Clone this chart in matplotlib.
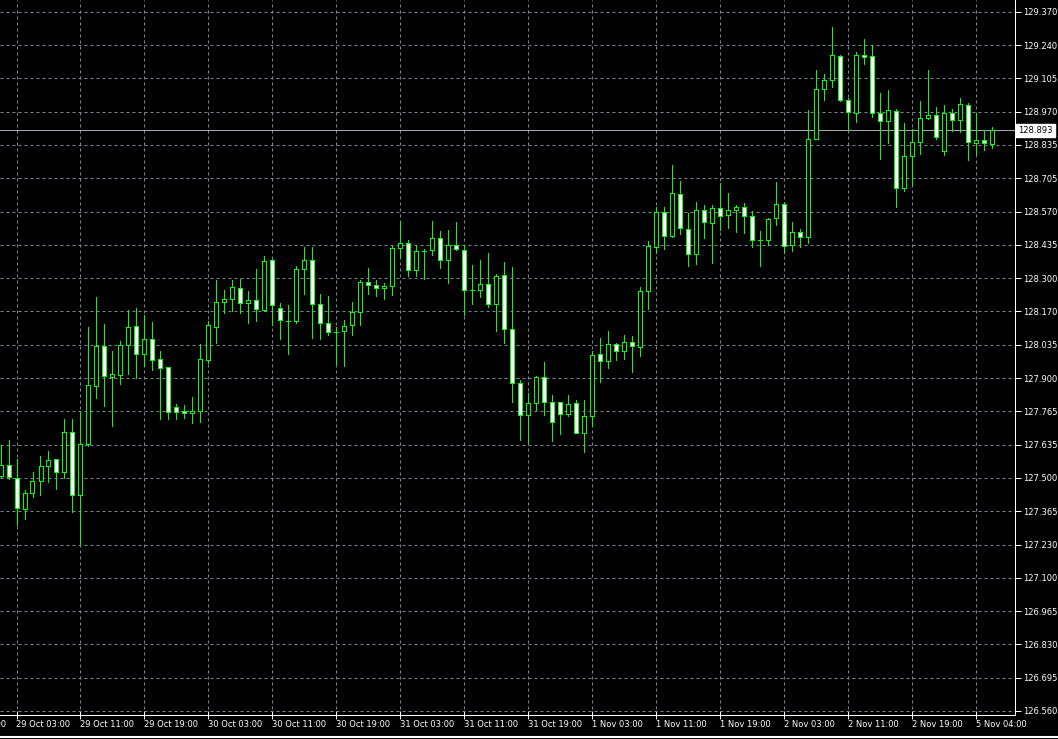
import numpy as np
import matplotlib
matplotlib.use('Agg')
import matplotlib.pyplot as plt
import matplotlib.transforms as mtransforms
from matplotlib.patches import Rectangle
from matplotlib.lines import Line2D

# hourly bars, index 0 = 29 Oct 03:00
first_bar = -2
opens = [127.506, 127.548, 127.495, 127.370, 127.435, 127.483, 127.544, 127.572, 127.522, 127.680,
         127.427, 127.631, 127.867, 128.025, 127.901, 127.912, 128.029, 128.106, 127.993, 128.053,
         127.973, 127.941, 127.780, 127.764, 127.756, 127.764, 127.972, 128.104, 128.202, 128.214,
         128.258, 128.198, 128.210, 128.170, 128.374, 128.178, 128.129, 128.126, 128.338, 128.374,
         128.194, 128.118, 128.081, 128.085, 128.110, 128.162, 128.282, 128.270, 128.258, 128.266,
         128.419, 128.439, 128.334, 128.408, 128.411, 128.459, 128.374, 128.431, 128.411, 128.252,
         128.253, 128.274, 128.194, 128.310, 128.097, 127.877, 127.748, 127.796, 127.901, 127.800,
         127.800, 127.755, 127.796, 127.679, 127.747, 127.993, 127.965, 128.034, 128.005, 128.042,
         128.021, 128.247, 128.424, 128.565, 128.468, 128.637, 128.496, 128.396, 128.573, 128.520,
         128.581, 128.552, 128.573, 128.585, 128.548, 128.452, 128.452, 128.540, 128.597, 128.432,
         128.485, 128.465, 128.859, 129.060, 129.096, 129.192, 129.015, 128.963, 129.196, 129.192,
         128.963, 128.931, 128.971, 128.661, 128.789, 128.846, 128.942, 128.954, 128.809, 128.962,
         128.934, 128.994, 128.842, 128.854, 128.838]
highs = [127.628, 127.649, 127.572, 127.449, 127.521, 127.585, 127.605, 127.574, 127.732, 127.732,
         127.762, 128.103, 128.223, 128.115, 128.007, 128.047, 128.171, 128.179, 128.150, 128.123,
         128.006, 127.944, 127.794, 127.790, 127.822, 128.033, 128.126, 128.292, 128.251, 128.292,
         128.294, 128.247, 128.336, 128.388, 128.376, 128.198, 128.190, 128.350, 128.424, 128.424,
         128.235, 128.226, 128.104, 128.130, 128.202, 128.292, 128.342, 128.292, 128.279, 128.427,
         128.527, 128.451, 128.431, 128.415, 128.527, 128.487, 128.491, 128.523, 128.431, 128.354,
         128.374, 128.399, 128.318, 128.366, 128.346, 127.890, 127.837, 127.905, 127.962, 127.829,
         127.802, 127.829, 127.809, 127.809, 128.005, 128.059, 128.087, 128.038, 128.071, 128.067,
         128.263, 128.449, 128.585, 128.585, 128.753, 128.689, 128.561, 128.605, 128.593, 128.593,
         128.681, 128.641, 128.593, 128.601, 128.569, 128.488, 128.540, 128.685, 128.605, 128.525,
         128.498, 128.975, 129.136, 129.120, 129.310, 129.194, 129.024, 129.208, 129.260, 129.236,
         129.044, 129.056, 128.979, 128.922, 128.898, 129.010, 129.135, 128.986, 128.994, 128.978,
         129.022, 129.002, 128.962, 128.894, 128.906]
lows = [127.499, 127.491, 127.308, 127.333, 127.418, 127.426, 127.482, 127.454, 127.498, 127.358,
        127.230, 127.623, 127.819, 127.787, 127.707, 127.875, 127.916, 127.897, 127.948, 127.930,
        127.734, 127.734, 127.734, 127.739, 127.719, 127.723, 127.957, 128.040, 128.160, 128.168,
        128.160, 128.120, 128.128, 128.168, 128.112, 128.056, 127.996, 128.120, 128.237, 128.060,
        128.053, 128.072, 127.953, 127.948, 128.072, 128.112, 128.237, 128.229, 128.217, 128.233,
        128.381, 128.309, 128.309, 128.297, 128.391, 128.341, 128.281, 128.412, 128.150, 128.197,
        128.225, 128.182, 128.088, 128.040, 127.800, 127.647, 127.639, 127.770, 127.750, 127.645,
        127.673, 127.746, 127.676, 127.601, 127.706, 127.883, 127.940, 127.972, 127.976, 127.923,
        127.988, 128.177, 128.400, 128.416, 128.464, 128.476, 128.350, 128.358, 128.459, 128.360,
        128.494, 128.499, 128.483, 128.479, 128.424, 128.350, 128.431, 128.512, 128.400, 128.407,
        128.425, 128.441, 128.857, 129.015, 129.068, 129.013, 128.895, 128.927, 129.160, 128.947,
        128.779, 128.843, 128.586, 128.649, 128.673, 128.800, 128.938, 128.858, 128.793, 128.890,
        128.886, 128.773, 128.797, 128.813, 128.821]
closes = [127.549, 127.499, 127.374, 127.435, 127.483, 127.544, 127.568, 127.522, 127.680, 127.427,
          127.632, 127.869, 128.025, 127.905, 127.913, 128.029, 128.102, 127.993, 128.053, 127.972,
          127.940, 127.760, 127.760, 127.756, 127.764, 127.973, 128.110, 128.202, 128.214, 128.262,
          128.198, 128.210, 128.174, 128.370, 128.190, 128.130, 128.128, 128.338, 128.374, 128.194,
          128.118, 128.081, 128.082, 128.106, 128.162, 128.282, 128.270, 128.258, 128.266, 128.419,
          128.439, 128.334, 128.407, 128.409, 128.459, 128.374, 128.431, 128.415, 128.250, 128.253,
          128.274, 128.194, 128.306, 128.097, 127.877, 127.748, 127.796, 127.901, 127.800, 127.723,
          127.755, 127.792, 127.679, 127.747, 127.989, 127.965, 128.034, 128.005, 128.042, 128.025,
          128.247, 128.428, 128.565, 128.468, 128.641, 128.500, 128.396, 128.573, 128.524, 128.581,
          128.548, 128.573, 128.585, 128.548, 128.452, 128.453, 128.536, 128.597, 128.428, 128.485,
          128.465, 128.859, 129.060, 129.096, 129.196, 129.015, 128.967, 129.196, 129.188, 128.963,
          128.931, 128.975, 128.662, 128.789, 128.846, 128.942, 128.954, 128.866, 128.962, 128.934,
          128.998, 128.846, 128.854, 128.842, 128.893]

price_labels = ['129.370', '129.240', '129.105', '128.970', '128.835', '128.705', '128.570',
                '128.435', '128.300', '128.170', '128.035', '127.900', '127.765', '127.635',
                '127.500', '127.365', '127.230', '127.100', '126.965', '126.830', '126.695', '126.560']
time_labels = ['28 Oct 19:00', '29 Oct 03:00', '29 Oct 11:00', '29 Oct 19:00', '30 Oct 03:00',
               '30 Oct 11:00', '30 Oct 19:00', '31 Oct 03:00', '31 Oct 11:00', '31 Oct 19:00',
               '1 Nov 03:00', '1 Nov 11:00', '1 Nov 19:00', '2 Nov 03:00', '2 Nov 11:00',
               '2 Nov 19:00', '5 Nov 04:00']
time_label_bars = list(range(-8, 121, 8))

GREEN = '#00ff00'
GRID = '#778899'
W, H = 1058, 739
PX = 0.72  # one pixel in points

fig = plt.figure(figsize=(W / 100, H / 100), dpi=100, facecolor='black')
ax = fig.add_axes([0, (H - 715) / H, 1015 / W, 715 / H], facecolor='black')

bars = np.arange(first_bar, first_bar + len(opens))
ax.vlines(bars, lows, highs, color=GREEN, lw=PX, antialiased=False, zorder=3)
for x, o, c in zip(bars, opens, closes):
    fc = 'white' if c < o else 'black'
    ax.add_patch(Rectangle((x - 0.25, min(o, c)), 0.5, abs(c - o), facecolor=fc,
                           edgecolor=GREEN, lw=PX, antialiased=False, zorder=4))

# axis limits so one bar = 8 px and one grid step = 33.3 px
top, bottom = 129.370, 126.560
step = (top - bottom) / 21
ax.set_ylim(top - (715 - 11.7) / 33.3 * step, top + 11.7 / 33.3 * step)
ax.set_xlim(-16.5 / 8, (1015 - 16.5) / 8)

yt = np.linspace(top, bottom, 22)
ax.set_yticks(yt)
ax.set_yticklabels(price_labels)
ax.yaxis.tick_right()
ax.tick_params(axis='y', colors='white', length=4, width=PX, pad=2, labelsize=6)

xt = [b for b in time_label_bars if b >= 0]
ax.set_xticks(xt)
ax.set_xticklabels([''] * len(xt))
ax.tick_params(axis='x', colors='white', length=6, width=PX, direction='inout')

ax.grid(True, color=GRID, lw=PX, linestyle=(0, (3, 3)), zorder=1)
ax.set_axisbelow(True)

for s in ['left', 'top']:
    ax.spines[s].set_visible(False)
for s in ['right', 'bottom']:
    ax.spines[s].set_color('white')
    ax.spines[s].set_linewidth(PX)

tr = mtransforms.blended_transform_factory(ax.transData, ax.transAxes)
for b, lab in zip(time_label_bars, time_labels):
    ax.text(b - 0.12, -5 / 715, lab, transform=tr, ha='left', va='top',
            fontsize=6, color='white', clip_on=False)

# bid line and its label
bid = closes[-1]
ax.axhline(bid, color='#a0a8b0', lw=PX, zorder=2)
tr2 = mtransforms.blended_transform_factory(ax.transAxes, ax.transData)
ax.text(1 + 3 / 1015, bid, '%.3f' % bid, transform=tr2, ha='left', va='center',
        fontsize=6, color='black', clip_on=False,
        bbox=dict(boxstyle='square,pad=0.25', fc='white', ec='white'))

fig.add_artist(Line2D([0, 1], [2 / H, 2 / H], color='white', lw=1.5))

fig.savefig('out.png', dpi=100, facecolor='black')
